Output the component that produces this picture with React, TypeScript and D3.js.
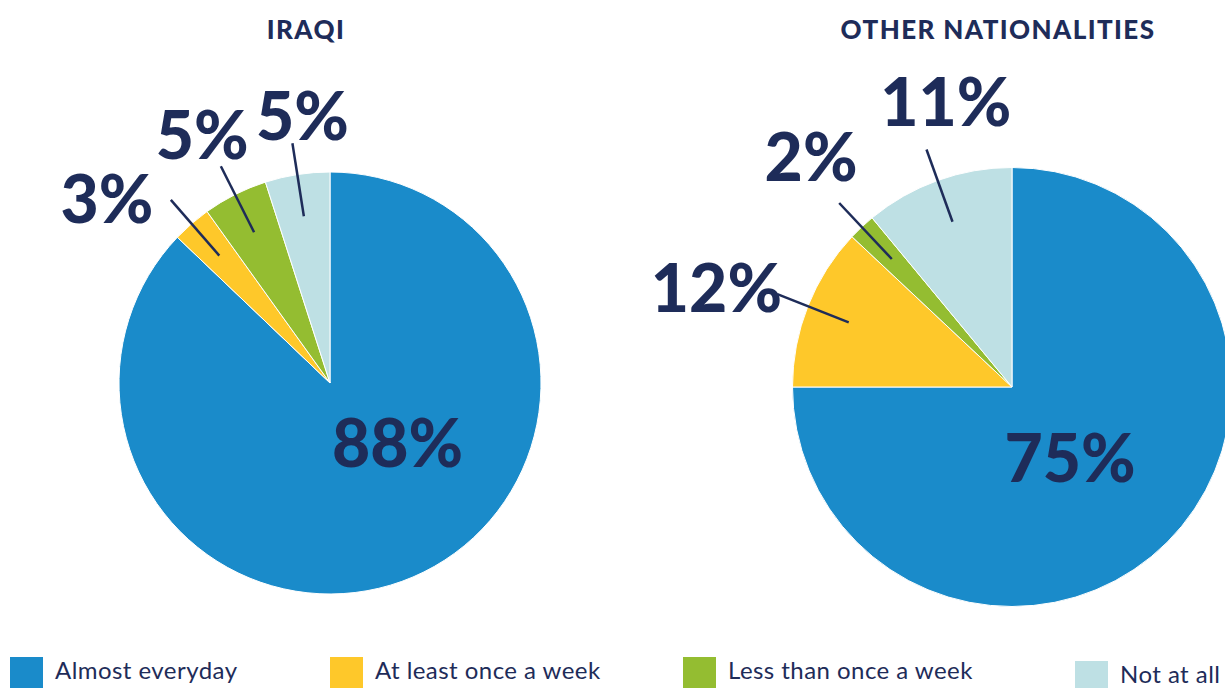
import * as d3 from 'd3'

const categories = ['Almost everyday', 'At least once a week', 'Less than once a week', 'Not at all']
const iraqiValues = [88, 3, 5, 5]
const otherValues = [75, 12, 2, 11]
const chartTitles = ['IRAQI', 'OTHER NATIONALITIES']

const colors = ['#1a8bca', '#fec82a', '#94bd31', '#bee0e4']
const navy = '#1e2c59'

const W = 1225
const H = 688

// label placement per slice: da = degrees added to the slice mid-angle, rf = radius factor
const pies = [
  {
    title: chartTitles[0],
    values: iraqiValues,
    cx: 330, cy: 383, r: 211, titleX: 306,
    labels: [
      { inside: true, da: -25, rf: 0.43 },
      { da: -9.5, rf: 1.37 },
      { da: -0.6, rf: 1.32 },
      { da: 3, rf: 1.27 },
    ],
  },
  {
    title: chartTitles[1],
    values: otherValues,
    cx: 1012, cy: 387, r: 219.5, titleX: 998,
    labels: [
      { inside: true, da: 6, rf: 0.42 },
      { da: -3.1, rf: 1.42 },
      { da: 2, rf: 1.39 },
      { da: 6.7, rf: 1.33 },
    ],
  },
]

const legendLayout = [
  { x: 10, dy: 0 },
  { x: 330, dy: 0 },
  { x: 683, dy: 0 },
  { x: 1075, dy: 4 },
]

const polar = (a: number, rad: number) => [Math.sin(a) * rad, -Math.cos(a) * rad]

function Pie({ spec }: { spec: typeof pies[number] }) {
  const pie = d3.pie<number>().sort(null).value(d => d)
  const arcs = pie(spec.values)
  const arc = d3.arc<d3.PieArcDatum<number>>().innerRadius(0).outerRadius(spec.r)

  return (
    <g transform={`translate(${spec.cx},${spec.cy})`}>
      {arcs.map((a, i) => (
        <path key={i} d={arc(a) || ''} fill={colors[i]} stroke="#fff" strokeWidth={1} />
      ))}
      {arcs.map((a, i) => {
        const mid = (a.startAngle + a.endAngle) / 2
        const lab = spec.labels[i]
        const la = mid + (lab.da * Math.PI) / 180
        const [lx, ly] = polar(la, spec.r * lab.rf)
        const [x1, y1] = polar(mid, spec.r * 0.8)
        const [x2, y2] = polar(mid, spec.r * 1.15)
        return (
          <g key={'l' + i}>
            {!lab.inside && (
              <line x1={x1} y1={y1} x2={x2} y2={y2} stroke={navy} strokeWidth={2.5} />
            )}
            <text
              x={lx}
              y={ly}
              dy="0.36em"
              textAnchor="middle"
              fontFamily="Lato, sans-serif"
              fontWeight={900}
              fontSize={66}
              fill={navy}
            >
              {a.data}%
            </text>
          </g>
        )
      })}
    </g>
  )
}

export default function App() {
  return (
    <svg
      width={W}
      height={H}
      style={{ position: 'absolute', left: 0, top: 0, background: '#fff' }}
    >
      {pies.map((p, i) => (
        <g key={i}>
          <text
            x={p.titleX}
            y={39}
            textAnchor="middle"
            fontFamily="Lato, sans-serif"
            fontWeight={900}
            fontSize={26}
            letterSpacing={1.4}
            fill={navy}
          >
            {p.title}
          </text>
          <Pie spec={p} />
        </g>
      ))}
      {categories.map((c, i) => {
        const l = legendLayout[i]
        return (
          <g key={c} transform={`translate(${l.x},${657 + l.dy})`}>
            <rect width={33} height={33} fill={colors[i]} />
            <text
              x={45}
              y={22}
              fontFamily="Lato, sans-serif"
              fontSize={24}
              letterSpacing={0.45}
              fill={navy}
            >
              {c}
            </text>
          </g>
        )
      })}
    </svg>
  )
}
